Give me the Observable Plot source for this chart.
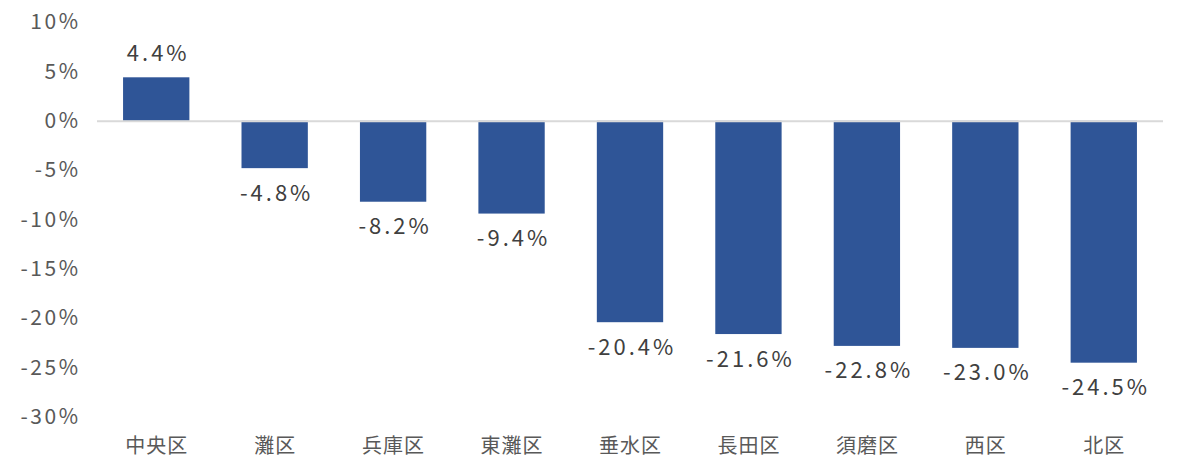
<!DOCTYPE html>
<html><head><meta charset="utf-8">
<script src="https://cdn.jsdelivr.net/npm/d3@7"></script>
<script src="https://cdn.jsdelivr.net/npm/@observablehq/plot@0.6"></script>
<style>
body{margin:0;background:#fff;}
#chart svg{display:block;}
</style>
</head><body><div id="chart"></div>
<script>
const wards = ["中央区","灘区","兵庫区","東灘区","垂水区","長田区","須磨区","西区","北区"];
const values = [4.4,-4.8,-8.2,-9.4,-20.4,-21.6,-22.8,-23.0,-24.5];
const yTicks = [10,5,0,-5,-10,-15,-20,-25,-30];

const data = wards.map((w,i)=>({ward:w, value:values[i]}));
const font = "'Noto Sans CJK JP', 'Noto Sans', sans-serif";
const chart = Plot.plot({
  width:1186, height:472,
  marginLeft:97, marginRight:23, marginTop:22, marginBottom:55,
  style:{fontFamily:font, color:"#595959", background:"#fff"},
  x:{domain:wards, paddingInner:0.44, paddingOuter:0.22, round:false, label:null, tickSize:0, tickPadding:21},
  y:{domain:[-30,10], ticks:yTicks, label:null, tickSize:0, tickPadding:17, tickFormat:d=>d+"%"},
  marks:[
    Plot.barY(data,{x:"ward", y:"value", fill:"#2F5597"}),
    Plot.ruleY([0],{stroke:"#d9d9d9", strokeWidth:2}),
    Plot.text(data.filter(d=>d.value>=0),{x:"ward", y:"value", text:d=>d.value.toFixed(1)+"%", dy:-24, dx:1.5, fill:"#404040", fontSize:22}),
    Plot.text(data.filter(d=>d.value<0),{x:"ward", y:"value", text:d=>d.value.toFixed(1)+"%", dy:25, dx:1.5, fill:"#404040", fontSize:22})
  ]
});
chart.querySelectorAll('[aria-label="text"] text').forEach(t=>t.setAttribute("letter-spacing","3"));
const ya = chart.querySelector('[aria-label="y-axis tick label"]');
if(ya){ ya.setAttribute("font-size","21"); ya.querySelectorAll("text").forEach(t=>{t.setAttribute("letter-spacing","2.5");}); }
const xa = chart.querySelector('[aria-label="x-axis tick label"]');
if(xa){ xa.setAttribute("font-size","20"); xa.querySelectorAll("text").forEach(t=>t.setAttribute("letter-spacing","1")); }
document.getElementById("chart").appendChild(chart);
</script></body></html>
